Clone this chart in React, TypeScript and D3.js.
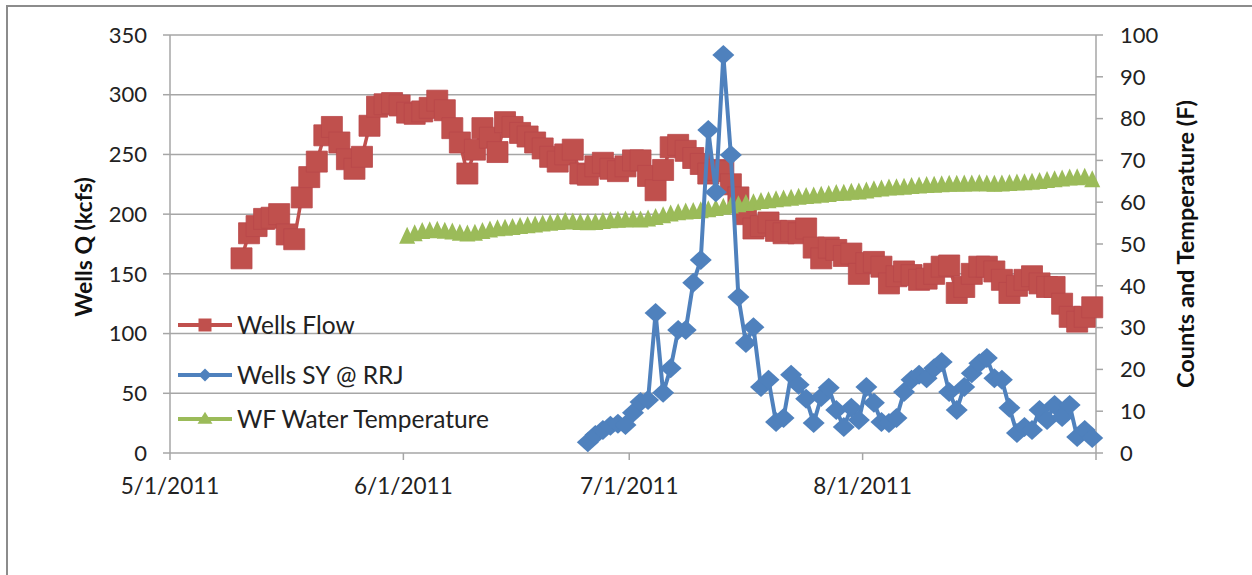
import React from "react";
import * as d3 from "d3";

const flowStart = "2011-05-10T12:00:00";
const flowValues = [
  163, 184, 190, 196, 197, 200, 183, 179, 214, 231, 244, 266, 273, 260, 246, 238, 248, 274, 290, 292, 293, 291,
  285, 284, 286, 289, 295, 287, 272, 260, 234, 254, 272, 264, 252, 277, 273, 268, 265, 260, 255, 248, 244, 250,
  254, 234, 233, 240, 243, 238, 236, 240, 245, 245, 232, 220, 237, 256, 258, 253, 247, 242, 234, 237, 236, 225,
  214, 200, 188, 190, 193, 186, 184, 186, 184, 188, 172, 163, 172, 170, 165, 167, 150, 159, 160, 156, 142, 148,
  152, 149, 145, 146, 150, 156, 157, 134, 139, 150, 156, 156, 152, 145, 134, 140, 145, 148, 142, 139, 139, 125,
  114, 110, 114, 122,
];

const syStart = "2011-06-25T12:00:00";
const syValues = [
  2.6, 4.3, 5.5, 6.5, 7, 6.7, 9.6, 12.2, 12.7, 33.5, 14.4, 20.3, 29.4, 29.4, 40.7, 46.2, 77.3, 62.4, 95.2, 71.3,
  37.3, 26.3, 30.1, 15.8, 17.5, 7.4, 8.4, 18.7, 16.3, 13, 7.2, 13.4, 15.6, 10.3, 6.2, 10.8, 7.9, 15.8, 12.0, 7.4,
  7.2, 8.4, 14.6, 17.5, 18.7, 17.9, 20.3, 21.8, 14.6, 10.3, 15.8, 19.1, 21.5, 22.7, 17.9, 17.5, 10.8, 4.8, 6.2,
  5.5, 10.3, 7.9, 11.5, 8.6, 11.5, 3.8, 5.5, 3.6,
];

const tempStart = "2011-06-01T12:00:00";
const tempValues = [
  51.7, 52.3, 52.8, 53.0, 53.1, 52.9, 52.7, 52.4, 52.2, 52.4,
  52.8, 53.2, 53.5, 53.6, 53.8, 54.0, 54.2, 54.4, 54.6, 54.8,
  55.0, 55.2, 55.1, 55.0, 54.9, 55.0, 55.2, 55.4, 55.5, 55.6,
  55.7, 55.6, 55.8, 56.2, 56.6, 57.0, 57.3, 57.5, 57.6, 57.8,
  58.0, 58.3, 58.6, 58.9, 59.2, 59.5, 59.7, 60.0, 60.2, 60.4,
  60.6, 60.8, 61.0, 61.2, 61.3, 61.5, 61.7, 61.9, 62.0, 62.2,
  62.3, 62.5, 62.8, 63.0, 63.2, 63.3, 63.4, 63.6, 63.7, 63.8,
  63.9, 64.0, 64.1, 64.1, 64.2, 64.2, 64.3, 64.2, 64.1, 64.2,
  64.3, 64.4, 64.5, 64.6, 64.8, 65.0, 65.2, 65.4, 65.6, 65.7,
  65.8, 65.2,
];

const leftTicks = [0, 50, 100, 150, 200, 250, 300, 350];
const rightTicks = [0, 10, 20, 30, 40, 50, 60, 70, 80, 90, 100];
const xTickDates = ["2011-05-01", "2011-06-01", "2011-07-01", "2011-08-01", "2011-09-01"];
const xTickLabels = ["5/1/2011", "6/1/2011", "7/1/2011", "8/1/2011", ""];

const seriesNames = ["Wells Flow", "Wells SY @ RRJ", "WF Water Temperature"];
const colors = ["#C0504D", "#4F81BD", "#9BBB59"];

type Pt = { date: Date; v: number };
const build = (start: string, vals: number[]): Pt[] => {
  const s = new Date(start);
  return vals.map((v, i) => ({ date: d3.timeDay.offset(s, i), v }));
};

const FONT = "Lato, 'Open Sans', sans-serif";

export default function App() {
  const W = 1252, H = 575;
  const x = d3.scaleTime().domain([new Date(2011, 4, 1), new Date(2011, 8, 1)]).range([170, 1096]);
  const yL = d3.scaleLinear().domain([0, 350]).range([453, 35]);
  const yR = d3.scaleLinear().domain([0, 100]).range([453, 35]);

  const flow = build(flowStart, flowValues);
  const sy = build(syStart, syValues);
  const temp = build(tempStart, tempValues);

  const lineL = d3.line<Pt>().x((d) => x(d.date)).y((d) => yL(d.v));
  const lineR = d3.line<Pt>().x((d) => x(d.date)).y((d) => yR(d.v));

  const sq = (s: number) => `M${-s / 2},${-s / 2}h${s}v${s}h${-s}Z`;
  const dia = (w: number, h: number) => `M0,${-h / 2}L${w / 2},0L0,${h / 2}L${-w / 2},0Z`;
  const tri = (w: number, h: number) => `M0,${-h * 0.6}L${w / 2},${h * 0.4}L${-w / 2},${h * 0.4}Z`;

  const grid = "#a6a6a6";
  const legendY = [325, 375, 419];
  const legendShapes = [sq(13), dia(13, 13), tri(15, 12)];

  return (
    <svg width={W} height={H} style={{ position: "absolute", left: 0, top: 0, background: "#fff" }}>
      {/* frame */}
      <path d={`M7,${H + 5}V6H${W + 5}`} fill="none" stroke="#8c8c8c" strokeWidth={2} />
      {/* gridlines */}
      {leftTicks.map((t) => (
        <line key={t} x1={170} x2={1096} y1={yL(t)} y2={yL(t)} stroke={grid} strokeWidth={1.5} />
      ))}
      {/* left axis */}
      <line x1={170} x2={170} y1={35} y2={453} stroke={grid} strokeWidth={1.5} />
      {leftTicks.map((t) => (
        <g key={t}>
          <line x1={163} x2={170} y1={yL(t)} y2={yL(t)} stroke={grid} strokeWidth={1.5} />
          <text x={147} y={yL(t)} dy="0.35em" textAnchor="end" fontFamily={FONT} fontSize={22} fill="#222">
            {t}
          </text>
        </g>
      ))}
      {/* right axis */}
      <line x1={1096} x2={1096} y1={35} y2={453} stroke={grid} strokeWidth={1.5} />
      {rightTicks.map((t) => (
        <g key={t}>
          <line x1={1096} x2={1103} y1={yR(t)} y2={yR(t)} stroke={grid} strokeWidth={1.5} />
          <text x={1120} y={yR(t)} dy="0.35em" textAnchor="start" fontFamily={FONT} fontSize={22} fill="#222">
            {t}
          </text>
        </g>
      ))}
      {/* x axis ticks */}
      {xTickDates.map((s, i) => {
        const d = new Date(s + "T00:00:00");
        return (
          <g key={s}>
            <line x1={x(d)} x2={x(d)} y1={453} y2={460} stroke={grid} strokeWidth={1.5} />
            <text x={x(d)} y={494} textAnchor="middle" fontFamily={FONT} fontSize={22.5} fill="#222">
              {xTickLabels[i]}
            </text>
          </g>
        );
      })}
      {/* axis titles */}
      <text
        transform="translate(92,247) rotate(-90)"
        textAnchor="middle"
        fontFamily={FONT}
        fontWeight="bold"
        fontSize={23}
        fill="#111"
      >
        Wells Q (kcfs)
      </text>
      <text
        transform="translate(1194,244) rotate(-90)"
        textAnchor="middle"
        fontFamily={FONT}
        fontWeight="bold"
        fontSize={23.5}
        fill="#111"
      >
        Counts and Temperature (F)
      </text>

      {/* Wells Flow */}
      <path d={lineL(flow) || ""} fill="none" stroke={colors[0]} strokeWidth={3.5} />
      {flow.map((d, i) => (
        <path key={i} d={sq(21)} transform={`translate(${x(d.date)},${yL(d.v)})`} fill={colors[0]} stroke="#b9474a" strokeWidth={0.8} />
      ))}
      {/* Temperature */}
      <path d={lineR(temp) || ""} fill="none" stroke={colors[2]} strokeWidth={3.5} />
      {temp.map((d, i) => (
        <path key={i} d={tri(16, 17)} transform={`translate(${x(d.date)},${yR(d.v)})`} fill={colors[2]} />
      ))}
      {/* SY */}
      <path d={lineR(sy) || ""} fill="none" stroke={colors[1]} strokeWidth={4} strokeLinejoin="round" />
      {sy.map((d, i) => (
        <path key={i} d={dia(22, 20)} transform={`translate(${x(d.date)},${yR(d.v)})`} fill={colors[1]} />
      ))}

      {/* legend */}
      {seriesNames.map((n, i) => (
        <g key={n}>
          <line x1={178} x2={232} y1={legendY[i]} y2={legendY[i]} stroke={colors[i]} strokeWidth={4} />
          <path d={legendShapes[i]} transform={`translate(205,${legendY[i]})`} fill={colors[i]} />
          <text x={237} y={legendY[i]} dy="0.35em" fontFamily={FONT} fontSize={24.5} fill="#222">
            {n}
          </text>
        </g>
      ))}
    </svg>
  );
}
